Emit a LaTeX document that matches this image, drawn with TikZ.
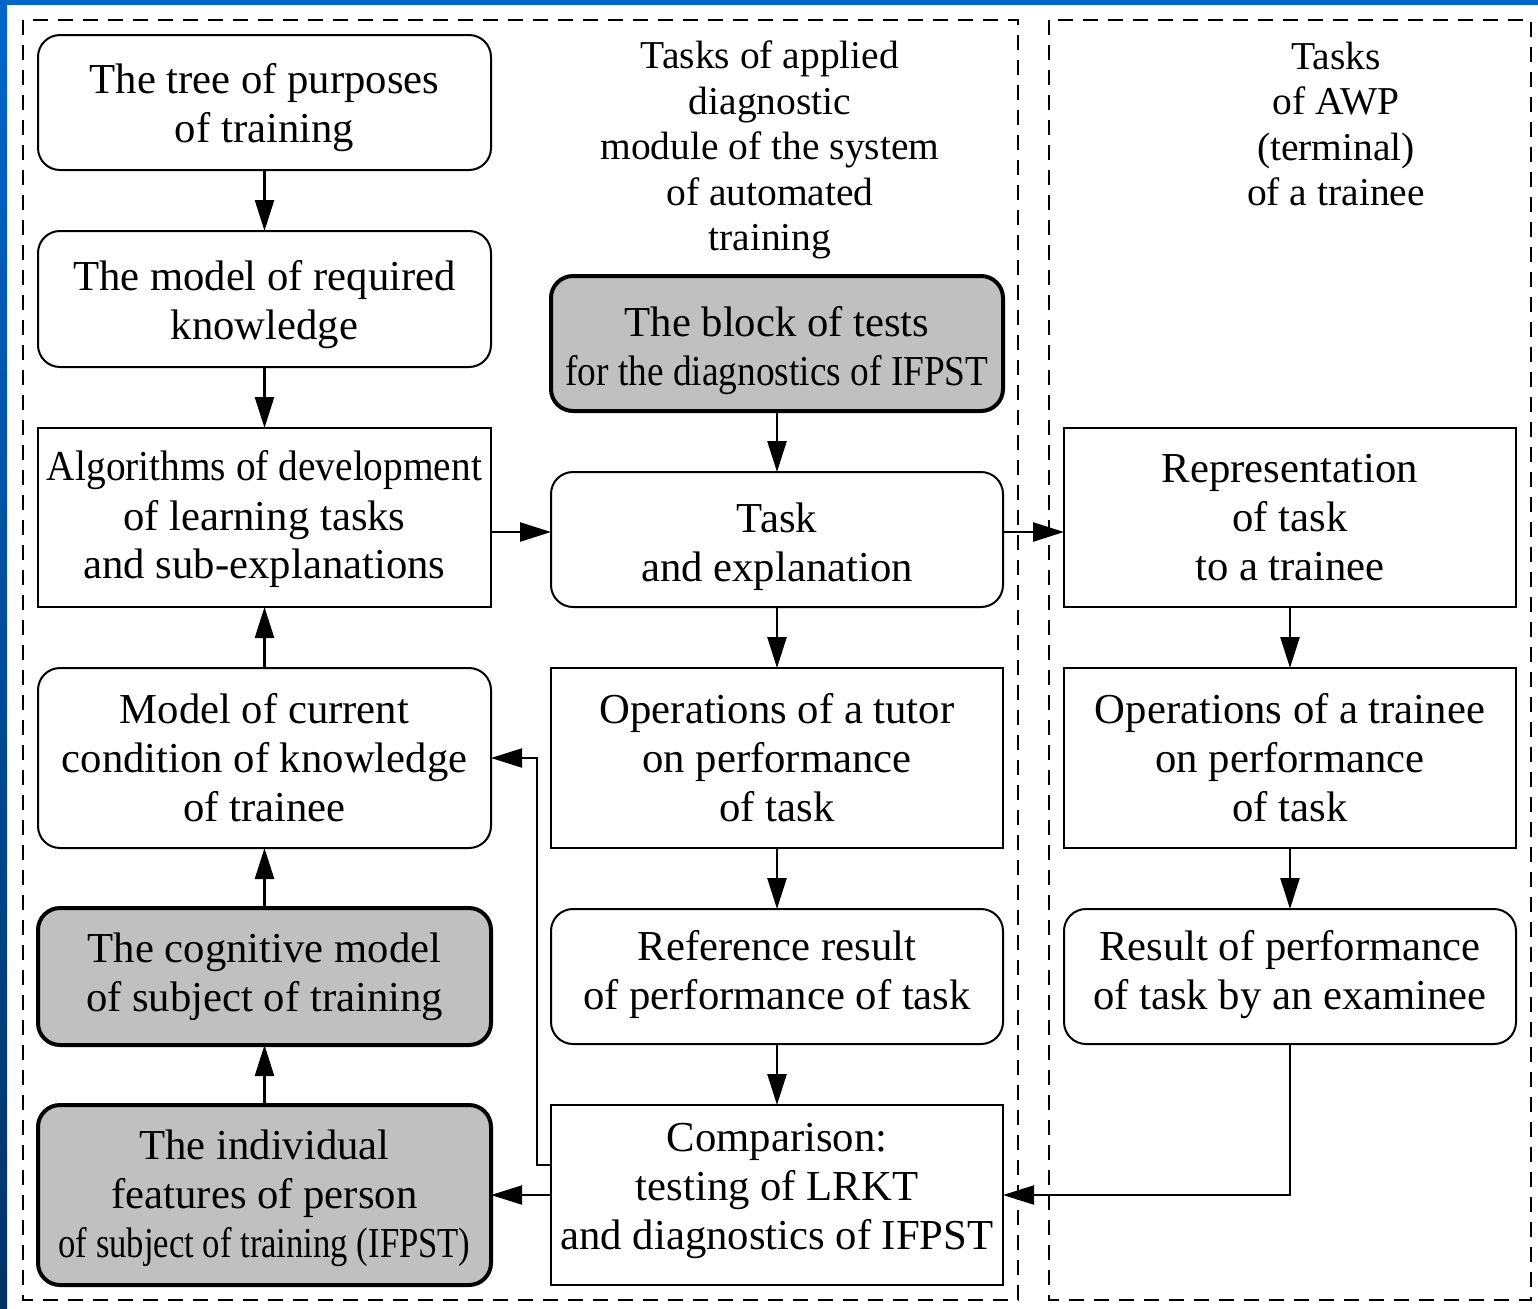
\documentclass[tikz,border=0pt]{standalone}
\usepackage{fontspec}
\setmainfont{Liberation Serif}
\usetikzlibrary{arrows.meta}
\definecolor{bandlight}{HTML}{0066CC}
\definecolor{banddark}{HTML}{003366}
\definecolor{boxgray}{HTML}{C0C0C0}
\newcommand\boxfont{\fontsize{21.35pt}{24.5pt}\selectfont}
\newcommand\titlefont{\fontsize{19.75pt}{22.8pt}\selectfont}
\newcommand\squeeze[2]{\resizebox{#1}{\height}{#2}}
\tikzset{
  box/.style={draw, line width=1pt, minimum width=226.5pt, inner sep=0pt, outer sep=0pt, fill=white},
  rbox/.style={box, rounded corners=11pt},
  gbox/.style={box, rounded corners=11pt, fill=boxgray, line width=2pt},
  txt/.style={align=center, font=\boxfont, inner sep=0pt},
  arr/.style={-{Triangle[length=15.5pt,width=9.5pt]}, line width=1.3pt},
  thinarr/.style={-{Triangle[length=15.5pt,width=9.5pt]}, line width=1pt},
  frame/.style={dash pattern=on 7.5pt off 5pt, line width=1pt},
  titletext/.style={align=center, font=\titlefont, inner sep=0pt}
}
\begin{document}
\begin{tikzpicture}[x=0.5pt,y=-0.5pt]
\useasboundingbox (0,0) rectangle (1538,1308);
\fill[white] (0,0) rectangle (1538,1308);
\fill[bandlight] (0,0) rectangle (1538,5);
\shade[top color=bandlight, bottom color=banddark] (0,0) rectangle (7,1308);

% frames
\draw[frame] (23,20) rectangle (1018,1300);
\draw[frame] (1049,20) rectangle (1531,1300);

% titles
\node[titletext] (t1) at (770,150) {Tasks of applied\\diagnostic\\module of the system\\of automated\\training};
\node[titletext] (t2) at (1336,124) {Tasks\\of AWP\\(terminal)\\of a trainee};

% left column
\node[rbox, minimum height=67.5pt] (b1) at (264.5,102.5) {};
\node[box, rounded corners=11pt, minimum height=68pt] (b2) at (264.5,299) {};
\node[box, minimum height=89.5pt] (b3) at (264.5,517.5) {};
\node[rbox, minimum height=90pt] (b4) at (264.5,758) {};
\node[gbox, minimum height=68.5pt] (b5) at (264.5,976.5) {};
\node[gbox, minimum height=90pt] (b6) at (264.5,1195) {};
\node[txt] (b1t) at ([yshift=-2.5pt]b1.center) {The tree of purposes\\of training};
\node[txt] (b2t) at ([yshift=-3pt]b2.center) {The model of required\\knowledge};
\node[txt] (b3t) at ([yshift=-1pt]b3.center) {\squeeze{217.5pt}{Algorithms of development}\\of learning tasks\\and sub-explanations};
\node[txt] (b4t) at (b4.center) {Model of current\\condition of knowledge\\of trainee};
\node[txt] (b5t) at (b5.center) {The cognitive model\\of subject of training};
\node[txt] (b6t) at ([yshift=-1.5pt]b6.center) {The individual\\features of person\\\squeeze{206pt}{of subject of training (IFPST)}};

% middle column
\node[gbox, minimum width=226pt, minimum height=67.5pt] (m1) at (777,343.5) {};
\node[rbox, minimum width=226pt, minimum height=67.5pt] (m2) at (777,539.5) {};
\node[box, minimum width=226pt, minimum height=90pt] (m3) at (777,758) {};
\node[rbox, minimum width=226pt, minimum height=67.5pt] (m4) at (777,976.5) {};
\node[box, minimum width=226pt, minimum height=90pt] (m5) at (777,1195) {};
\node[txt] (m1t) at ([yshift=-3.5pt]m1.center) {The block of tests\\\squeeze{211.5pt}{for the diagnostics of IFPST}};
\node[txt] (m2t) at ([yshift=-3.5pt]m2.center) {Task\\and explanation};
\node[txt] (m3t) at (m3.center) {Operations of a tutor\\on performance\\of task};
\node[txt] (m4t) at ([yshift=1pt]m4.center) {Reference result\\of performance of task};
\node[txt] (m5t) at ([yshift=2pt]m5.center) {Comparison:\\testing of LRKT\\and diagnostics of IFPST};

% right column
\node[box, minimum width=226pt, minimum height=89.5pt] (r1) at (1290,517.5) {};
\node[box, minimum width=226pt, minimum height=90pt] (r2) at (1290,758) {};
\node[rbox, minimum width=226pt, minimum height=67.5pt] (r3) at (1290,976.5) {};
\node[txt] (r1t) at (r1.center) {Representation\\of task\\to a trainee};
\node[txt] (r2t) at (r2.center) {Operations of a trainee\\on performance\\of task};
\node[txt] (r3t) at ([yshift=1pt]r3.center) {Result of performance\\of task by an examinee};

% connectors
\coordinate (ya) at (0,532);
\coordinate (fb) at (537,1165);
\draw[arr] (b1) -- (b2);
\draw[arr] (b2) -- (b3);
\draw[arr] (b4) -- (b3);
\draw[arr] (b5) -- (b4);
\draw[arr] (b6) -- (b5);
\draw[arr] (b3.east |- ya) -- (m2.west |- ya);
\draw[arr] (m2.east |- ya) -- (r1.west |- ya);
\draw[arr] (m1) -- (m2);
\draw[arr] (m2) -- (m3);
\draw[arr] (m3) -- (m4);
\draw[arr] (m4) -- (m5);
\draw[arr] (r1) -- (r2);
\draw[arr] (r2) -- (r3);
\draw[thinarr] (r3.south) |- (m5.east);
\draw[thinarr] (m5.west) -- (b6.east);
\draw[thinarr] (m5.west |- fb) -- (fb) |- (b4.east);
\end{tikzpicture}
\end{document}
